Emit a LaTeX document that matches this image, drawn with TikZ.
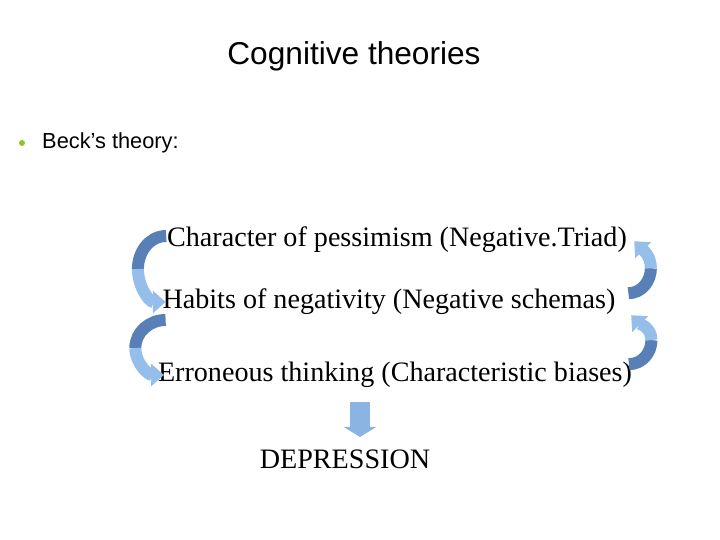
\documentclass[tikz,border=0pt]{standalone}
\usepackage{fontspec}
\setmainfont{Liberation Serif}
\setsansfont{Liberation Sans}
\usetikzlibrary{arrows.meta,positioning,calc}
\definecolor{bandDark}{RGB}{88,128,182}
\definecolor{bandLight}{RGB}{150,190,235}
\definecolor{downBlue}{RGB}{140,180,226}
\definecolor{bulletGreen}{RGB}{146,196,40}

\begin{document}
\begin{tikzpicture}[line cap=butt,
        heading/.style={font=\sffamily\fontsize{22.5}{27}\selectfont},
        point/.style={font=\sffamily\fontsize{15.5}{19}\selectfont},
        line/.style={font=\fontsize{20}{24}\selectfont},
        bandtop/.style={draw=bandDark, line width=0.3cm},
        bandend/.style={draw=bandLight, line width=0.3cm, -{Triangle[width=0.55cm,length=0.32cm]}},
        down/.style={draw=downBlue, line width=0.5cm, -{Triangle[width=0.8cm,length=0.25cm]}}]
            \useasboundingbox (0,0) rectangle (18,13.5);
            \node[heading](title) at (8.85,12.1) {Cognitive theories};
            \node[circle, fill=bulletGreen, inner sep=0, minimum size=0.15cm](dot) at (0.55,9.925) {};
            \node[point](beck)[right=0.3cm of dot] {Beck’s theory:};
            \node[line](char) at (9.925,7.5) {Character of pessimism (Negative.Triad)};
            \node[line](habit) at (9.725,5.95) {Habits of negativity (Negative schemas)};
            \node[line](err) at (9.875,4.125) {Erroneous thinking (Characteristic biases)};
            \node[line](dep) at (8.625,2.025) {DEPRESSION};
            % left loops, going down
            \coordinate (l1) at ($(char.west)!0.5!(habit.west)+(-0.55,0.05)$);
            \coordinate (l2) at ($(habit.west)!0.5!(err.west)+(-0.5,-0.24)$);
            \draw[bandtop] ($(char.west)+(0.1,0.1)$) to[out=180,in=90] (l1);
            \draw[bandend] (l1) to[out=270,in=180] ($(habit.west)+(0.2,0)$);
            \draw[bandtop] ($(habit.west)+(0.2,-0.45)$) to[out=180,in=90] (l2);
            \draw[bandend] (l2) to[out=270,in=180] ($(err.west)+(0.27,0)$);
            % right loops, going up
            \coordinate (r1) at ($(char.east)!0.5!(habit.east)+(0.62,0.07)$);
            \coordinate (r2) at ($(habit.east)!0.5!(err.east)+(0.57,-0.04)$);
            \draw[bandtop] ($(habit.east)+(0.2,0.22)$) to[out=0,in=270] (r1);
            \draw[bandend] (r1) to[out=90,in=-45] ($(char.east)+(0.06,-0.03)$);
            \draw[bandtop] ($(err.east)+(-0.2,0.27)$) to[out=0,in=270] (r2);
            \draw[bandend] (r2) to[out=90,in=-45] ($(habit.east)+(0.27,-0.33)$);
            % down to the result
            \coordinate (dtop) at (9,3.45);
            \coordinate (dbot) at (9,2.575);
            \draw[down] (dtop) -- (dbot);
        \end{tikzpicture}
\end{document}
